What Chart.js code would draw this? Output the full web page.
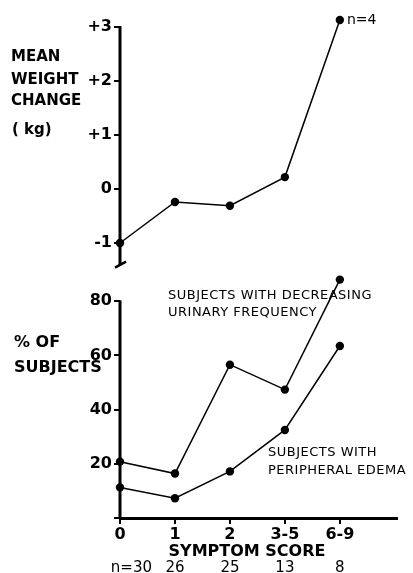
<!DOCTYPE html>
<html lang="en">
<head>
  <meta charset="UTF-8" />
  <title>Weight change and symptoms by symptom score</title>
  <script src="https://cdn.jsdelivr.net/npm/chart.js"></script>
  <style>
    body {
      margin: 0;
      background: #fff;
    }

    .wrap {
      position: relative;
      width: 413px;
      height: 573px;
      overflow: hidden;
    }

    canvas {
      position: absolute;
      left: 0;
    }

    #weightChart { top: 0; }
    #percentChart { top: 270px; }
  </style>
</head>
<body>
  <div class="wrap">
    <canvas id="weightChart" width="413" height="270"></canvas>
    <canvas id="percentChart" width="413" height="303"></canvas>
  </div>

  <script>
    // symptom score groups and subjects per group
    const categories = ["0", "1", "2", "3-5", "6-9"];
    const nSubjects = ["30", "26", "25", "13", "8"];

    // top panel: mean weight change (kg)
    const weightChange = [-1.0, -0.24, -0.31, 0.22, 3.13];
    const weightTicks = [-1, 0, 1, 2, 3];
    const weightTickLabels = ["-1", "0", "+1", "+2", "+3"];

    // bottom panel: % of subjects
    const urinaryFrequency = [20.8, 16.4, 56.6, 47.4, 88];
    const peripheralEdema = [11.3, 7.3, 17.2, 32.5, 63.5];
    const percentTicks = [0, 20, 40, 60, 80];
    const percentTickLabels = ["", "20", "40", "60", "80"];

    Chart.defaults.font.family = "'DejaVu Sans', sans-serif";
    Chart.defaults.color = "#000";
    Chart.defaults.animation = false;

    const toPoints = (values) => values.map((v, i) => ({ x: i, y: v }));

    const lineStyle = {
      borderColor: "#000",
      backgroundColor: "#000",
      borderWidth: 1.5,
      pointRadius: 4.2,
      pointBorderWidth: 0,
      tension: 0,
      clip: false,
    };

    const tickFont = { size: 16, weight: "bold" };

    // keep tick labels from shrinking the plot area
    function noPadding(s) {
      s.paddingTop = 0;
      s.paddingBottom = 0;
      s.paddingLeft = 0;
      s.paddingRight = 0;
    }

    function xScale(show) {
      return {
        type: "linear",
        min: 0,
        max: 5.04,
        display: show,
        afterBuildTicks: (s) => {
          s.ticks = categories.map((c, i) => ({ value: i }));
        },
        afterFit: (s) => {
          if (show) s.height = 55;
          noPadding(s);
        },
        ticks: {
          font: tickFont,
          padding: 1,
          maxRotation: 0,
          autoSkip: false,
          callback: (v) => categories[v] ?? "",
        },
        grid: {
          drawOnChartArea: false,
          color: "#000",
          lineWidth: 2,
          tickLength: 6,
        },
        border: { color: "#000", width: 3 },
      };
    }

    // the axis line itself is drawn by the plugin, only up to the top tick
    function yScale(min, max, values, labels) {
      return {
        min: min,
        max: max,
        afterBuildTicks: (s) => {
          s.ticks = values.map((v) => ({ value: v }));
        },
        afterFit: (s) => {
          s.width = 120;
          noPadding(s);
        },
        ticks: {
          font: tickFont,
          padding: 2,
          callback: (v) => {
            const i = values.indexOf(v);
            return i >= 0 ? labels[i] : "";
          },
        },
        grid: {
          drawOnChartArea: false,
          color: "#000",
          lineWidth: 2,
          tickLength: 6,
        },
        border: { display: false },
      };
    }

    function textPlugin(items, topTick, extra) {
      return {
        id: "panelText",
        beforeDatasetsDraw(chart) {
          const ctx = chart.ctx;
          const a = chart.chartArea;
          const yTop = chart.scales.y.getPixelForValue(topTick);
          ctx.save();
          ctx.strokeStyle = "#000";
          ctx.lineWidth = 3;
          ctx.beginPath();
          ctx.moveTo(a.left, yTop - 1);
          ctx.lineTo(a.left, a.bottom + 1);
          ctx.stroke();
          ctx.restore();
        },
        afterDraw(chart) {
          const ctx = chart.ctx;
          ctx.save();
          ctx.fillStyle = "#000";
          ctx.textBaseline = "middle";
          items.forEach((t) => {
            ctx.font = t.font;
            ctx.letterSpacing = t.spacing || "0px";
            ctx.textAlign = t.align || "left";
            ctx.fillText(t.text, t.x, t.y);
          });
          ctx.letterSpacing = "0px";
          if (extra) extra(chart, ctx);
          ctx.restore();
        },
      };
    }

    const topLabelFont = "bold 15px 'DejaVu Sans', sans-serif";
    const labelFont = "bold 16px 'DejaVu Sans', sans-serif";
    const noteFont = "13px 'DejaVu Sans', sans-serif";

    new Chart(document.getElementById("weightChart"), {
      type: "line",
      data: {
        datasets: [{ data: toPoints(weightChange), ...lineStyle }],
      },
      options: {
        responsive: false,
        layout: { padding: { top: 13.5, right: 16, bottom: 5.4, left: 0 } },
        plugins: { legend: { display: false }, tooltip: { enabled: false } },
        scales: {
          x: xScale(false),
          y: yScale(-1.4, 3.25, weightTicks, weightTickLabels),
        },
      },
      plugins: [
        textPlugin(
          [
            { text: "MEAN", x: 11, y: 57, font: topLabelFont },
            { text: "WEIGHT", x: 11, y: 80, font: topLabelFont },
            { text: "CHANGE", x: 11, y: 101, font: topLabelFont },
            { text: "( kg)", x: 12, y: 130, font: topLabelFont },
            { text: "n=4", x: 347, y: 20, font: "14px 'DejaVu Sans', sans-serif" },
          ],
          3,
          (chart, ctx) => {
            // axis break mark at the bottom of the weight axis
            const a = chart.chartArea;
            ctx.strokeStyle = "#000";
            ctx.lineWidth = 2.5;
            ctx.beginPath();
            ctx.moveTo(a.left - 5, a.bottom + 3);
            ctx.lineTo(a.left + 6, a.bottom - 3);
            ctx.stroke();
          }
        ),
      ],
    });

    new Chart(document.getElementById("percentChart"), {
      type: "line",
      data: {
        datasets: [
          { data: toPoints(urinaryFrequency), ...lineStyle },
          { data: toPoints(peripheralEdema), ...lineStyle },
        ],
      },
      options: {
        responsive: false,
        layout: { padding: { top: 1.6, right: 16, bottom: 0, left: 0 } },
        plugins: { legend: { display: false }, tooltip: { enabled: false } },
        scales: {
          x: xScale(true),
          y: yScale(0, 90, percentTicks, percentTickLabels),
        },
      },
      plugins: [
        textPlugin(
          [
            { text: "% OF", x: 14, y: 73, font: labelFont },
            { text: "SUBJECTS", x: 14, y: 98, font: labelFont },
            { text: "SUBJECTS WITH DECREASING", x: 168, y: 26, font: noteFont, spacing: "0.5px" },
            { text: "URINARY FREQUENCY", x: 168, y: 43, font: noteFont, spacing: "0.5px" },
            { text: "SUBJECTS WITH", x: 268, y: 183, font: noteFont, spacing: "0.5px" },
            { text: "PERIPHERAL EDEMA", x: 268, y: 201, font: noteFont, spacing: "0.5px" },
            { text: "SYMPTOM SCORE", x: 247, y: 282, font: labelFont, align: "center" },
          ],
          80,
          (chart, ctx) => {
            // subjects per group under the axis title
            const x = chart.scales.x;
            ctx.font = "15px 'DejaVu Sans', sans-serif";
            nSubjects.forEach((n, i) => {
              const px = x.getPixelForValue(i);
              if (i === 0) {
                ctx.textAlign = "right";
                ctx.fillText("n=" + n, px + 32, 298);
              } else {
                ctx.textAlign = "center";
                ctx.fillText(n, px, 298);
              }
            });
          }
        ),
      ],
    });
  </script>
</body>
</html>
